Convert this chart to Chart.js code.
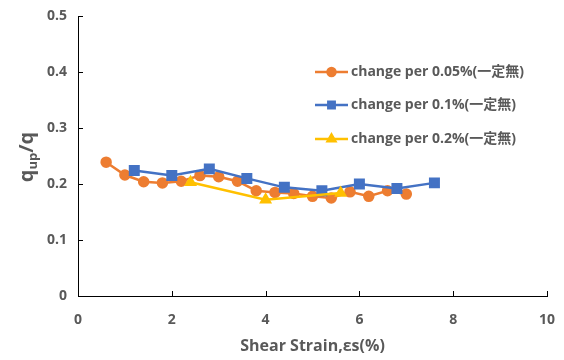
<!DOCTYPE html>
<html>
<head>
<meta charset="utf-8">
<script src="https://cdn.jsdelivr.net/npm/chart.js@4/dist/chart.umd.min.js"></script>
<style>
  html, body { margin: 0; padding: 0; background: #fff; }
  #wrap { width: 564px; height: 360px; position: relative; }
</style>
</head>
<body>
<div id="wrap"><canvas id="chart"></canvas></div>
<script>
const FONT = "'Open Sans', 'Noto Sans CJK JP', sans-serif";
const TEXT = "#595959";

const seriesNames = ["change per 0.05%(一定無)", "change per 0.1%(一定無)", "change per 0.2%(一定無)"];

const strain005 = [0.6, 1.0, 1.4, 1.8, 2.2, 2.6, 3.0, 3.4, 3.8, 4.2, 4.6, 5.0, 5.4, 5.8, 6.2, 6.6, 7.0];
const ratio005 = [0.239, 0.216, 0.204, 0.202, 0.205, 0.215, 0.213, 0.205, 0.188, 0.185, 0.183, 0.178, 0.175, 0.186, 0.178, 0.188, 0.182];

const strain01 = [1.2, 2.0, 2.8, 3.6, 4.4, 5.2, 6.0, 6.8, 7.6];
const ratio01 = [0.224, 0.215, 0.227, 0.21, 0.194, 0.188, 0.2, 0.192, 0.202];

const strain02 = [2.4, 4.0, 5.6];
const ratio02 = [0.203, 0.172, 0.184];

const xTicks = [0, 2, 4, 6, 8, 10];
const yTicks = [0, 0.1, 0.2, 0.3, 0.4, 0.5];

const toPoints = (xs, ys) => xs.map((x, i) => ({ x: x, y: ys[i] }));

// legend, axis tick marks and y title drawn by hand
const extras = {
  id: "extras",
  afterDraw(chart) {
    const ctx = chart.ctx;
    const xs = chart.scales.x, ys = chart.scales.y;
    ctx.save();
    ctx.strokeStyle = "#000";
    ctx.lineWidth = 1;
    ctx.beginPath();
    xTicks.forEach((t) => {
      const px = Math.round(xs.getPixelForValue(t)) + 0.5;
      ctx.moveTo(px, ys.bottom);
      ctx.lineTo(px, ys.bottom - 5);
    });
    yTicks.forEach((t) => {
      const py = Math.round(ys.getPixelForValue(t)) + 0.5;
      ctx.moveTo(xs.left, py);
      ctx.lineTo(xs.left + 5, py);
    });
    ctx.stroke();

    // y title q_up/q
    ctx.translate(27, 157);
    ctx.rotate(-Math.PI / 2);
    ctx.fillStyle = TEXT;
    ctx.textBaseline = "middle";
    const big = "bold 20px " + FONT, small = "bold 13px " + FONT;
    ctx.font = big;
    const w1 = ctx.measureText("q").width;
    const w3 = ctx.measureText("/q").width;
    ctx.font = small;
    const w2 = ctx.measureText("up").width;
    let x0 = -(w1 + w2 + w3) / 2;
    ctx.font = big;
    ctx.textAlign = "left";
    ctx.fillText("q", x0, 0);
    ctx.font = small;
    ctx.fillText("up", x0 + w1, 6);
    ctx.font = big;
    ctx.fillText("/q", x0 + w1 + w2, 0);
    ctx.restore();

    // legend
    ctx.save();
    const rows = [72, 105, 139];
    chart.data.datasets.forEach((ds, i) => {
      const y = rows[i];
      ctx.strokeStyle = ds.borderColor;
      ctx.lineWidth = 2.5;
      ctx.beginPath();
      ctx.moveTo(315, y);
      ctx.lineTo(348, y);
      ctx.stroke();
      Chart.helpers.drawPoint(ctx, {
        pointStyle: ds.pointStyle,
        radius: ds.pointStyle === "circle" ? 4 : 4.5,
        rotation: 0,
        borderWidth: 1
      }, 331.5, y);
      ctx.fillStyle = ds.backgroundColor;
      ctx.fill();
      ctx.fillStyle = TEXT;
      ctx.font = "bold 14px " + FONT;
      ctx.textBaseline = "middle";
      ctx.textAlign = "left";
      ctx.fillText(seriesNames[i], 351, y);
    });
    ctx.restore();
  }
};

new Chart(document.getElementById("chart"), {
  type: "scatter",
  data: {
    datasets: [
      {
        label: seriesNames[0],
        data: toPoints(strain005, ratio005),
        showLine: true,
        borderColor: "#ED7D31",
        backgroundColor: "#ED7D31",
        borderWidth: 2.5,
        pointStyle: "circle",
        pointRadius: 4.5,
        order: 3
      },
      {
        label: seriesNames[1],
        data: toPoints(strain01, ratio01),
        showLine: true,
        borderColor: "#4472C4",
        backgroundColor: "#4472C4",
        borderWidth: 2.5,
        pointStyle: "rect",
        pointRadius: 6,
        order: 2
      },
      {
        label: seriesNames[2],
        data: toPoints(strain02, ratio02),
        showLine: true,
        borderColor: "#FFC000",
        backgroundColor: "#FFC000",
        borderWidth: 2.5,
        pointStyle: "triangle",
        pointRadius: 5,
        order: 1
      }
    ]
  },
  options: {
    responsive: true,
    maintainAspectRatio: false,
    animation: false,
    layout: { padding: { top: 16, right: 17, left: 0, bottom: 0 } },
    plugins: {
      legend: { display: false },
      tooltip: { enabled: false }
    },
    scales: {
      x: {
        type: "linear",
        min: 0,
        max: 10,
        afterBuildTicks: (s) => { s.ticks = xTicks.map((v) => ({ value: v })); },
        afterFit: (s) => { s.height = 64; s.paddingRight = 0; s.paddingLeft = 0; },
        grid: { display: false, drawTicks: false },
        border: { display: true, color: "#000", width: 1 },
        ticks: { color: TEXT, font: { family: FONT, size: 14, weight: "bold" }, padding: 16 },
        title: {
          display: true,
          text: "Shear Strain,εs(%)",
          color: TEXT,
          font: { family: FONT, size: 16, weight: "bold" },
          padding: { top: 2 }
        }
      },
      y: {
        type: "linear",
        min: 0,
        max: 0.5,
        afterBuildTicks: (s) => { s.ticks = yTicks.map((v) => ({ value: v })); },
        afterFit: (s) => { s.width = 78; s.paddingTop = 0; s.paddingBottom = 0; },
        grid: { display: false, drawTicks: false },
        border: { display: true, color: "#000", width: 1 },
        ticks: {
          color: TEXT,
          font: { family: FONT, size: 14, weight: "bold" },
          padding: 11,
          callback: (v) => String(v)
        }
      }
    }
  },
  plugins: [extras]
});
</script>
</body>
</html>
